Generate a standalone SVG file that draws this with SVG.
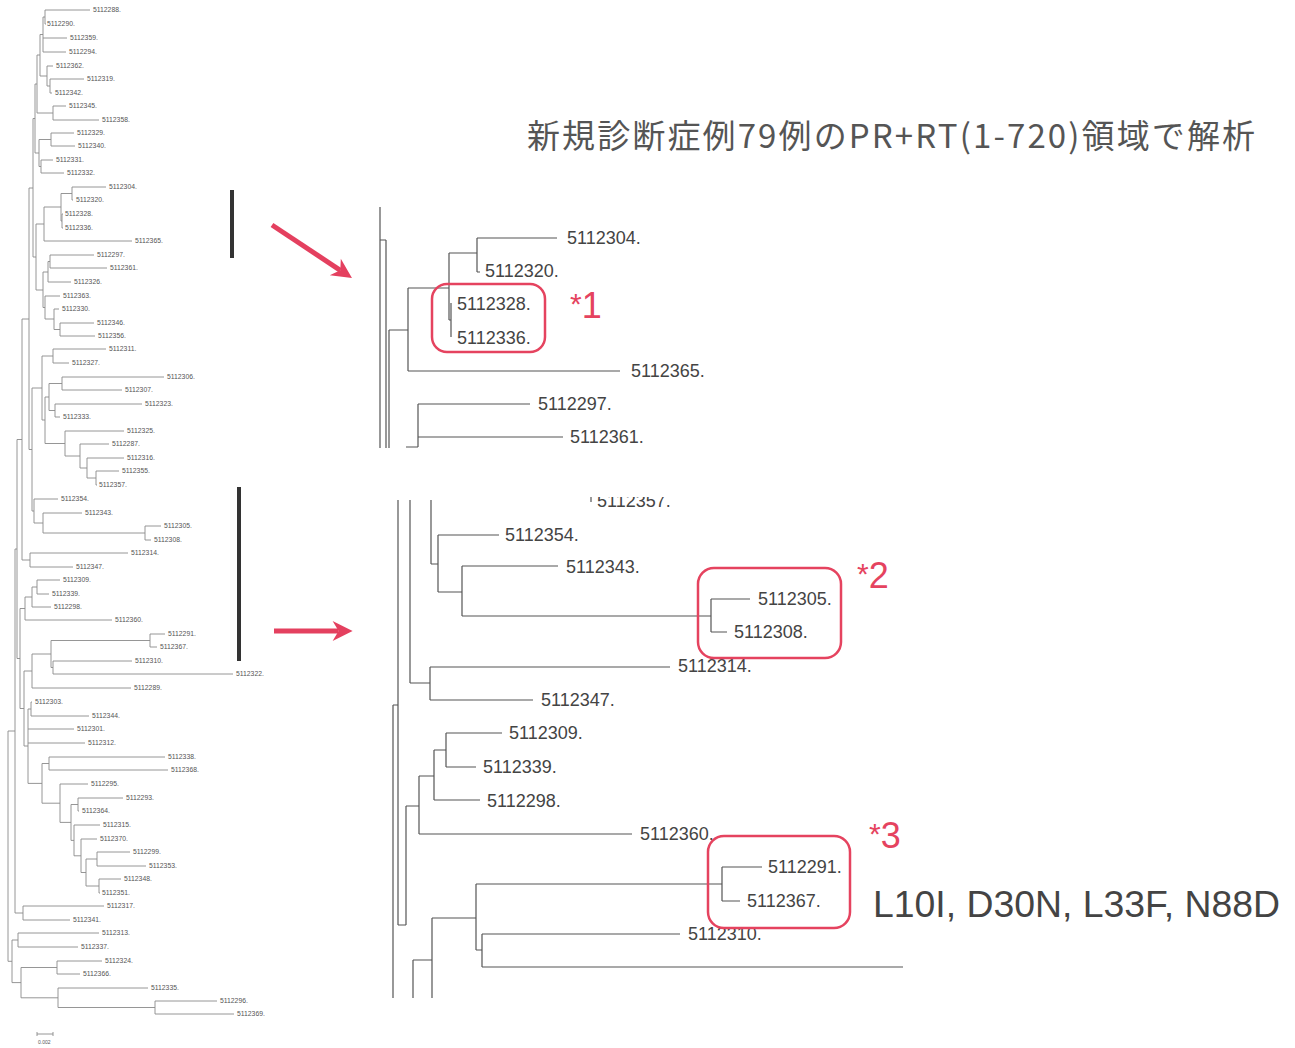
<svg xmlns="http://www.w3.org/2000/svg" width="1295" height="1048" viewBox="0 0 1295 1048">
<style>
.lb{fill:none;stroke:#8a8a8a;stroke-width:0.9}
.lt{font-family:"Liberation Sans",Arial,sans-serif;font-size:6.8px;fill:#555}
.rb{fill:none;stroke:#555;stroke-width:1.2}
.rt{font-family:"Liberation Sans",Arial,sans-serif;font-size:18px;fill:#444}
.box{fill:none;stroke:#e5435f;stroke-width:2.5}
.star{font-family:"Liberation Sans",Arial,sans-serif;font-size:36px;fill:#e5435f}
.ast{font-size:30px}
.arrow{fill:none;stroke:#e4405f;stroke-width:5;marker-end:url(#ah)}
.bar{fill:#333}
</style>
<defs>
<marker id="ah" viewBox="0 0 10 10" refX="3" refY="5" markerWidth="4.4" markerHeight="4" orient="auto">
<path d="M0,0 L10,5 L0,10 L3,5 z" fill="#e4405f"/>
</marker>
<clipPath id="cut357"><rect x="560" y="497" width="160" height="20"/></clipPath>
</defs>
<rect width="1295" height="1048" fill="#fff"/>

<!-- connectors -->
<g id="connectors">
<path class="lb" d="M45 10V24M45 10H90M45 24H46M43 17V52M43 17H45M43 38H67M43 52H66M50 79V93M50 79H84M50 93H52M47 66V86M47 66H53M47 86H50M40 34.5V76M40 34.5H43M40 76H47M53 106V120M53 106H66M53 120H99M37 55V113M37 55H40M37 113H53M51 133V146M51 133H74M51 146H75M41 160V173M41 160H53M41 173H64M39 139.5V166.5M39 139.5H51M39 166.5H41M35 84V153M35 84H37M35 153H39"/>
<path class="lb" d="M72 187V200M72 187H106M72 200H73M62 214V228M62 214H63M62 228H63M61 193.5V221M61 193.5H72M61 221H62M44 207V241M44 207H61M44 241H132M50 255V268M50 255H94M50 268H107M48 261.5V282M48 261.5H50M48 282H71M60 323V336M60 323H94M60 336H95M54 309V329.5M54 309H59M54 329.5H60M45 296V319M45 296H60M45 319H54M43 272V307.5M43 272H48M43 307.5H45M36 224V290M36 224H44M36 290H43M33 118.5V257M33 118.5H35M33 257H36"/>
<path class="lb" d="M53 349V363M53 349H106M53 363H69M62 377V390M62 377H164M62 390H122M55 404V417M55 404H142M55 417H60M49 383.5V410.5M49 383.5H62M49 410.5H55M96 471V485M96 471H119M96 485H97M87 458V478M87 458H124M87 478H96M80 444V468M80 444H109M80 468H87M65 431V456M65 431H124M65 456H80M45 397V443.5M45 397H49M45 443.5H65M42 356V420M42 356H53M42 420H45"/>
<path class="lb" d="M145 526V540M145 526H161M145 540H151M43 513V533M43 513H82M43 533H145M34 499V523M34 499H58M34 523H43M32 388V511M32 388H42M32 511H34M29 188V449.5M29 188H33M29 449.5H32M30 553V567M30 553H128M30 567H73M22 319V560M22 319H29M22 560H30"/>
<path class="lb" d="M37 580V594M37 580H60M37 594H49M32 587V607M32 587H37M32 607H51M25 597V620M25 597H32M25 620H112M150 634V647M150 634H165M150 647H157M53 661V674M53 661H132M53 674H233M51 640.5V667.5M51 640.5H150M51 667.5H53M32 654V688M32 654H51M32 688H131M31 702V716M31 702H32M31 716H89"/>
<path class="lb" d="M49 757V770M49 757H165M49 770H168M78 798V811M78 798H123M78 811H79M97 852V866M97 852H130M97 866H146M99 879V893M99 879H121M99 893H100M86 859V886M86 859H97M86 886H99M81 839V872.5M81 839H97M81 872.5H86M74 825V855.8M74 825H100M74 855.8H81M71 804.5V840.4M71 804.5H78M71 840.4H74M60 784V822.4M60 784H88M60 822.4H71M42 763.5V803.2M42 763.5H49M42 803.2H60M28 709V783.4M28 709H31M28 729H74M28 743H85M28 783.4H42M24 671V746M24 671H32M24 746H28M20 608.5V708.5M20 608.5H25M20 708.5H24M17 439.5V658.5M17 439.5H22M17 658.5H20"/>
<path class="lb" d="M23 906V920M23 906H104M23 920H70M15 549V913M15 549H17M15 913H23M18 933V947M18 933H99M18 947H78M57 961V974M57 961H102M57 974H80M155 1001V1014M155 1001H217M155 1014H234M58 988V1007.5M58 988H148M58 1007.5H155M21 967.5V997.8M21 967.5H57M21 997.8H58M12 940V982.6M12 940H18M12 982.6H21M8 731V961.3M8 731H15M8 961.3H12"/>
<path class="lb" d="M37 1034H53M37 1032V1036M53 1032V1036"/>

<path class="rb" d="M380 207V448M380 240H386M386 240V448M389 330V448M389 330H408M408 288V371M408 288H449M408 371H620M449 253V320M449 320H451M451 303V337M449 253H477M477 238V272M477 238H557M477 272H480M418 404V447M418 404H530M418 437H563M406 447H418"/>
<path class="rb" d="M398 500V925M393 705V998M393 705H398M410 500V683M410 683H430M430 667V700M430 667H670M430 700H533M431 500V564M431 564H438M438 535V592M438 535H499M438 592H462M462 566V616M462 566H558M462 616H711M711 599V632M711 599H750M711 632H727"/>
<path class="rb" d="M406 806V925M398 925H406M406 806H419M419 776V834M419 776H434M419 834H632M434 750V800M434 750H446M434 800H480M446 733V767M446 733H502M446 767H476M413 960V998M413 960H432M432 918V998M432 918H476M476 884V950M476 884H722M476 950H482M722 867V901M722 867H762M722 901H740M482 934V967M482 934H680M482 967H903"/>
<path class="rb" d="M591 497V502" clip-path="url(#cut357)"/>

<path class="arrow" d="M272 225L340.3 270.3"/>
<path class="arrow" d="M274 631H338.6"/>
</g>

<rect class="bar" x="230" y="190" width="4" height="68"/>
<rect class="bar" x="237" y="487" width="4" height="174"/>

<!-- left tree leaf labels -->
<g id="left-labels">
<g id="l5112288"><text class="lt" x="93" y="12.3">5112288.</text></g>
<g id="l5112290"><text class="lt" x="47" y="26.3">5112290.</text></g>
<g id="l5112359"><text class="lt" x="70" y="40.3">5112359.</text></g>
<g id="l5112294"><text class="lt" x="69" y="54.3">5112294.</text></g>
<g id="l5112362"><text class="lt" x="56" y="68.3">5112362.</text></g>
<g id="l5112319"><text class="lt" x="87" y="81.3">5112319.</text></g>
<g id="l5112342"><text class="lt" x="55" y="95.3">5112342.</text></g>
<g id="l5112345"><text class="lt" x="69" y="108.3">5112345.</text></g>
<g id="l5112358"><text class="lt" x="102" y="122.3">5112358.</text></g>
<g id="l5112329"><text class="lt" x="77" y="135.3">5112329.</text></g>
<g id="l5112340"><text class="lt" x="78" y="148.3">5112340.</text></g>
<g id="l5112331"><text class="lt" x="56" y="162.3">5112331.</text></g>
<g id="l5112332"><text class="lt" x="67" y="175.3">5112332.</text></g>
<g id="l5112304"><text class="lt" x="109" y="189.3">5112304.</text></g>
<g id="l5112320"><text class="lt" x="76" y="202.3">5112320.</text></g>
<g id="l5112328"><text class="lt" x="65" y="216.3">5112328.</text></g>
<g id="l5112336"><text class="lt" x="65" y="230.3">5112336.</text></g>
<g id="l5112365"><text class="lt" x="135" y="243.3">5112365.</text></g>
<g id="l5112297"><text class="lt" x="97" y="257.3">5112297.</text></g>
<g id="l5112361"><text class="lt" x="110" y="270.3">5112361.</text></g>
<g id="l5112326"><text class="lt" x="74" y="284.3">5112326.</text></g>
<g id="l5112363"><text class="lt" x="63" y="298.3">5112363.</text></g>
<g id="l5112330"><text class="lt" x="62" y="311.3">5112330.</text></g>
<g id="l5112346"><text class="lt" x="97" y="325.3">5112346.</text></g>
<g id="l5112356"><text class="lt" x="98" y="338.3">5112356.</text></g>
<g id="l5112311"><text class="lt" x="109" y="351.3">5112311.</text></g>
<g id="l5112327"><text class="lt" x="72" y="365.3">5112327.</text></g>
<g id="l5112306"><text class="lt" x="167" y="379.3">5112306.</text></g>
<g id="l5112307"><text class="lt" x="125" y="392.3">5112307.</text></g>
<g id="l5112323"><text class="lt" x="145" y="406.3">5112323.</text></g>
<g id="l5112333"><text class="lt" x="63" y="419.3">5112333.</text></g>
<g id="l5112325"><text class="lt" x="127" y="433.3">5112325.</text></g>
<g id="l5112287"><text class="lt" x="112" y="446.3">5112287.</text></g>
<g id="l5112316"><text class="lt" x="127" y="460.3">5112316.</text></g>
<g id="l5112355"><text class="lt" x="122" y="473.3">5112355.</text></g>
<g id="l5112357"><text class="lt" x="99" y="487.3">5112357.</text></g>
<g id="l5112354"><text class="lt" x="61" y="501.3">5112354.</text></g>
<g id="l5112343"><text class="lt" x="85" y="515.3">5112343.</text></g>
<g id="l5112305"><text class="lt" x="164" y="528.3">5112305.</text></g>
<g id="l5112308"><text class="lt" x="154" y="542.3">5112308.</text></g>
<g id="l5112314"><text class="lt" x="131" y="555.3">5112314.</text></g>
<g id="l5112347"><text class="lt" x="76" y="569.3">5112347.</text></g>
<g id="l5112309"><text class="lt" x="63" y="582.3">5112309.</text></g>
<g id="l5112339"><text class="lt" x="52" y="596.3">5112339.</text></g>
<g id="l5112298"><text class="lt" x="54" y="609.3">5112298.</text></g>
<g id="l5112360"><text class="lt" x="115" y="622.3">5112360.</text></g>
<g id="l5112291"><text class="lt" x="168" y="636.3">5112291.</text></g>
<g id="l5112367"><text class="lt" x="160" y="649.3">5112367.</text></g>
<g id="l5112310"><text class="lt" x="135" y="663.3">5112310.</text></g>
<g id="l5112322"><text class="lt" x="236" y="676.3">5112322.</text></g>
<g id="l5112289"><text class="lt" x="134" y="690.3">5112289.</text></g>
<g id="l5112303"><text class="lt" x="35" y="704.3">5112303.</text></g>
<g id="l5112344"><text class="lt" x="92" y="718.3">5112344.</text></g>
<g id="l5112301"><text class="lt" x="77" y="731.3">5112301.</text></g>
<g id="l5112312"><text class="lt" x="88" y="745.3">5112312.</text></g>
<g id="l5112338"><text class="lt" x="168" y="759.3">5112338.</text></g>
<g id="l5112368"><text class="lt" x="171" y="772.3">5112368.</text></g>
<g id="l5112295"><text class="lt" x="91" y="786.3">5112295.</text></g>
<g id="l5112293"><text class="lt" x="126" y="800.3">5112293.</text></g>
<g id="l5112364"><text class="lt" x="82" y="813.3">5112364.</text></g>
<g id="l5112315"><text class="lt" x="103" y="827.3">5112315.</text></g>
<g id="l5112370"><text class="lt" x="100" y="841.3">5112370.</text></g>
<g id="l5112299"><text class="lt" x="133" y="854.3">5112299.</text></g>
<g id="l5112353"><text class="lt" x="149" y="868.3">5112353.</text></g>
<g id="l5112348"><text class="lt" x="124" y="881.3">5112348.</text></g>
<g id="l5112351"><text class="lt" x="102" y="895.3">5112351.</text></g>
<g id="l5112317"><text class="lt" x="107" y="908.3">5112317.</text></g>
<g id="l5112341"><text class="lt" x="73" y="922.3">5112341.</text></g>
<g id="l5112313"><text class="lt" x="102" y="935.3">5112313.</text></g>
<g id="l5112337"><text class="lt" x="81" y="949.3">5112337.</text></g>
<g id="l5112324"><text class="lt" x="105" y="963.3">5112324.</text></g>
<g id="l5112366"><text class="lt" x="83" y="976.3">5112366.</text></g>
<g id="l5112335"><text class="lt" x="151" y="990.3">5112335.</text></g>
<g id="l5112296"><text class="lt" x="220" y="1003.3">5112296.</text></g>
<g id="l5112369"><text class="lt" x="237" y="1016.3">5112369.</text></g>
<g id="scale"><text class="lt" x="38" y="1044" style="font-size:5px">0.002</text></g>
</g>

<!-- title -->
<g id="title"><text x="527" y="148" textLength="728" lengthAdjust="spacing" style="font-family:'Noto Sans CJK JP','Noto Sans CJK SC',sans-serif;font-size:33px;fill:#555">新規診断症例79例のPR+RT(1-720)領域で解析</text></g>

<!-- right panel 1 labels -->
<g id="r5112304"><text class="rt" x="567" y="243.5">5112304.</text></g>
<g id="r5112320"><text class="rt" x="485" y="276.5">5112320.</text></g>
<g id="r5112328"><text class="rt" x="457" y="309.5">5112328.</text></g>
<g id="r5112336"><text class="rt" x="457" y="343.5">5112336.</text></g>
<g id="r5112365"><text class="rt" x="631" y="376.5">5112365.</text></g>
<g id="r5112297"><text class="rt" x="538" y="409.5">5112297.</text></g>
<g id="r5112361"><text class="rt" x="570" y="442.5">5112361.</text></g>

<!-- right panel 2 labels -->
<g id="r5112357"><text class="rt" x="597" y="507" clip-path="url(#cut357)">5112357.</text></g>
<g id="r5112354"><text class="rt" x="505" y="540.5">5112354.</text></g>
<g id="r5112343"><text class="rt" x="566" y="572.5">5112343.</text></g>
<g id="r5112305"><text class="rt" x="758" y="604.5">5112305.</text></g>
<g id="r5112308"><text class="rt" x="734" y="637.5">5112308.</text></g>
<g id="r5112314"><text class="rt" x="678" y="671.5">5112314.</text></g>
<g id="r5112347"><text class="rt" x="541" y="705.5">5112347.</text></g>
<g id="r5112309"><text class="rt" x="509" y="738.5">5112309.</text></g>
<g id="r5112339"><text class="rt" x="483" y="772.5">5112339.</text></g>
<g id="r5112298"><text class="rt" x="487" y="806.5">5112298.</text></g>
<g id="r5112360"><text class="rt" x="640" y="839.5">5112360.</text></g>
<g id="r5112291"><text class="rt" x="768" y="872.5">5112291.</text></g>
<g id="r5112367"><text class="rt" x="747" y="906.5">5112367.</text></g>
<g id="r5112310"><text class="rt" x="688" y="939.5">5112310.</text></g>

<!-- highlight boxes -->
<g id="hl1"><rect class="box" x="432" y="284" width="113" height="68" rx="15"/><text class="star" x="570" y="318"><tspan class="ast" dy="-4">*</tspan><tspan dy="4">1</tspan></text></g>
<g id="hl2"><rect class="box" x="698" y="568" width="143" height="90" rx="16"/><text class="star" x="857" y="588"><tspan class="ast" dy="-4">*</tspan><tspan dy="4">2</tspan></text></g>
<g id="hl3"><rect class="box" x="708" y="836" width="142" height="92" rx="16"/><text class="star" x="869" y="848"><tspan class="ast" dy="-4">*</tspan><tspan dy="4">3</tspan></text></g>

<g id="mutations"><text x="873" y="917" textLength="407" lengthAdjust="spacingAndGlyphs" style="font-family:'Liberation Sans',Arial,sans-serif;font-size:36px;fill:#444">L10I, D30N, L33F, N88D</text></g>
</svg>
